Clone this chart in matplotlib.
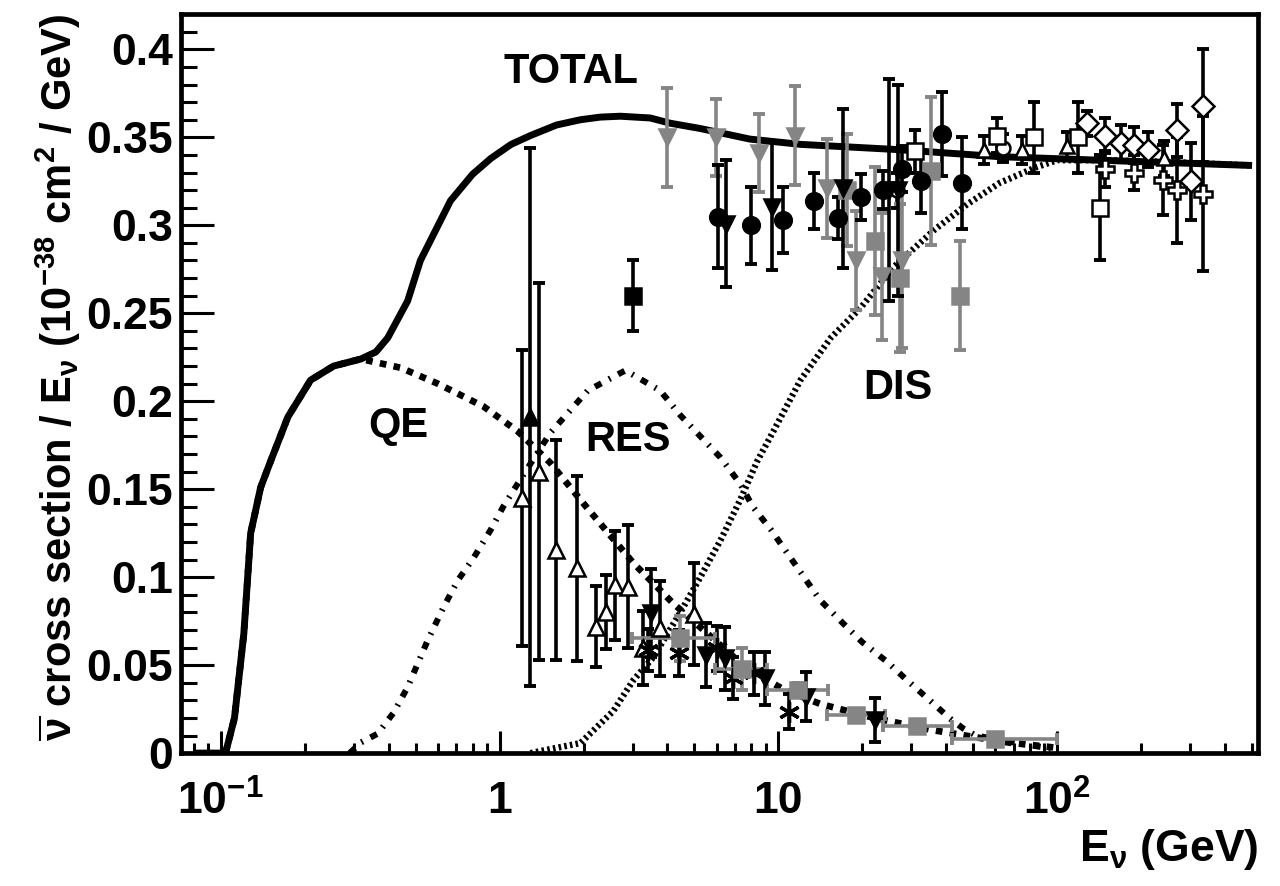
#!/usr/bin/env python3
import matplotlib

matplotlib.use("Agg")
import matplotlib.pyplot as plt
from matplotlib.ticker import FixedLocator, NullFormatter

plt.rcParams["font.family"] = ["Liberation Sans", "DejaVu Sans"]
plt.rcParams["font.weight"] = "bold"
plt.rcParams["mathtext.fontset"] = "custom"
plt.rcParams["mathtext.rm"] = "Liberation Sans:bold"
plt.rcParams["mathtext.it"] = "Liberation Sans:bold"
plt.rcParams["mathtext.bf"] = "Liberation Sans:bold"
plt.rcParams["mathtext.default"] = "rm"

GRAY = "#858585"

# model curves: antineutrino cross section / E (1e-38 cm^2/GeV)
total_e = [0.08, 0.104, 0.112, 0.121, 0.128, 0.139, 0.151, 0.174, 0.21, 0.254, 0.318, 0.36, 0.397, 0.468,
           0.52, 0.667, 0.8, 0.93, 1.1, 1.29, 1.6, 1.95, 2.3, 2.71, 3.47, 4.1, 5.25, 7.9, 12.0, 27.0, 62.0,
           142.0, 500.0]
total_s = [0.0, 0.0, 0.02, 0.068, 0.125, 0.151, 0.166, 0.191, 0.212, 0.220, 0.224, 0.228, 0.236, 0.257,
           0.28, 0.314, 0.329, 0.338, 0.346, 0.351, 0.357, 0.36, 0.3615, 0.362, 0.361, 0.358, 0.355, 0.349,
           0.346, 0.343, 0.339, 0.337, 0.334]

qe_e = [0.104, 0.112, 0.121, 0.128, 0.139, 0.151, 0.174, 0.21, 0.254, 0.318, 0.442, 0.6, 0.876, 1.16,
        1.52, 2.07, 3.02, 4.2, 5.56, 7.7, 10.5, 14.1, 22.0, 36.0, 51.0, 67.0, 100.0]
qe_s = [0.0, 0.02, 0.068, 0.125, 0.151, 0.166, 0.191, 0.212, 0.220, 0.224, 0.219, 0.210, 0.197, 0.183,
        0.165, 0.139, 0.108, 0.085, 0.068, 0.048, 0.036, 0.028, 0.020, 0.013, 0.009, 0.006, 0.003]

res_e = [0.29, 0.318, 0.365, 0.417, 0.468, 0.552, 0.63, 0.707, 0.807, 0.93, 1.03, 1.16, 1.52, 2.07,
         2.71, 2.83, 3.77, 4.45, 6.2, 7.3, 8.1, 9.4, 14.1, 17.0, 20.0, 24.5, 28.9, 34.9, 41.0, 46.0,
         51.0, 72.0, 100.0]
res_s = [0.0, 0.006, 0.011, 0.023, 0.0375, 0.064, 0.083, 0.098, 0.111, 0.127, 0.14, 0.153, 0.182, 0.206,
         0.216, 0.2175, 0.206, 0.192, 0.168, 0.153, 0.14, 0.127, 0.087, 0.074, 0.063, 0.052, 0.0415,
         0.030, 0.020, 0.014, 0.010, 0.0057, 0.002]

dis_e = [1.29, 1.95, 2.56, 3.02, 3.56, 4.45, 5.25, 6.2, 7.3, 8.4, 9.6, 12.0, 15.4, 19.7, 25.8, 36.0,
         47.6, 62.0, 84.0, 100.0, 150.0, 250.0, 500.0]
dis_s = [0.0, 0.0057, 0.024, 0.0415, 0.0545, 0.080, 0.10, 0.121, 0.144, 0.166, 0.183, 0.212, 0.236,
         0.253, 0.276, 0.297, 0.312, 0.324, 0.333, 0.337, 0.337, 0.336, 0.334]

# measurements
open_tri_e = [1.2, 1.39, 1.60, 1.90, 2.21, 2.40, 2.60, 2.90, 3.27, 3.77, 4.97]
open_tri_s = [0.145, 0.160, 0.1154, 0.105, 0.0718, 0.080, 0.0955, 0.0945, 0.0595, 0.071, 0.079]
open_tri_err = [0.084, 0.107, 0.0625, 0.0527, 0.023, 0.021, 0.031, 0.035, 0.021, 0.027, 0.029]

tot_tri_e = [54.5, 74.5, 108.0, 241.0]
tot_tri_s = [0.343, 0.343, 0.345, 0.338]
tot_tri_err = [0.008, 0.008, 0.008, 0.01]

open_circ_e = [26.7, 64.0]
open_circ_s = [0.320, 0.344]
open_circ_err = [0.01, 0.008]

up_tri_e = [1.29]
up_tri_s = [0.191]
up_tri_err = [0.153]

black_sq_e = [3.0]
black_sq_s = [0.26]
black_sq_err = [0.02]

circ_e = [6.06, 7.96, 10.4, 13.4, 16.3, 19.8, 23.7, 27.7, 32.6, 38.6, 45.5]
circ_s = [0.305, 0.300, 0.303, 0.314, 0.304, 0.316, 0.320, 0.332, 0.325, 0.352, 0.324]
circ_err = [0.029, 0.022, 0.019, 0.016, 0.012, 0.013, 0.011, 0.013, 0.018, 0.024, 0.026]

dtri_e = [6.5, 9.5, 17.0, 25.0, 26.8]
dtri_s = [0.301, 0.3105, 0.321, 0.320, 0.320]
dtri_err = [0.036, 0.036, 0.045, 0.063, 0.06]

gray_tri_e = [3.99, 5.98, 8.5, 11.5, 14.9, 19.0, 23.5, 27.7]
gray_tri_s = [0.350, 0.350, 0.341, 0.351, 0.321, 0.280, 0.271, 0.280]
gray_tri_err = [0.028, 0.022, 0.022, 0.028, 0.028, 0.028, 0.036, 0.05]

gray_sq_e = [17.6, 22.3, 27.3, 35.3, 44.9]
gray_sq_s = [0.320, 0.291, 0.270, 0.331, 0.260]
gray_sq_err = [0.032, 0.042, 0.042, 0.042, 0.031]

open_sq_e = [31.0, 60.7, 82.8, 119.0, 142.0]
open_sq_s = [0.342, 0.351, 0.350, 0.350, 0.310]
open_sq_err = [0.012, 0.01, 0.02, 0.02, 0.03]

diam_e = [128.0, 149.0, 169.0, 189.0, 212.0, 268.0, 301.0, 333.0]
diam_s = [0.358, 0.351, 0.347, 0.3456, 0.343, 0.354, 0.325, 0.368]
diam_err = [0.007, 0.01, 0.01, 0.01, 0.01, 0.015, 0.022, 0.032]

cross_e = [149.0, 189.0, 240.0, 268.0, 334.0]
cross_s = [0.332, 0.330, 0.3257, 0.320, 0.318]
cross_err = [0.01, 0.01, 0.02, 0.03, 0.044]

qe_sq_e = [4.45, 7.42, 11.8, 19.0, 31.4, 60.0]
qe_sq_s = [0.0652, 0.048, 0.0358, 0.0216, 0.0155, 0.008]
qe_sq_elo = [2.99, 5.94, 9.1, 14.9, 23.7, 41.8]
qe_sq_ehi = [5.94, 9.1, 15.1, 24.2, 41.8, 99.7]
qe_sq_err = [0.013, 0.012, 0.004, 0.002, 0.002, 0.002]

star_e = [3.42, 4.4, 6.0, 6.9, 8.15, 10.9]
star_s = [0.0585, 0.0567, 0.0595, 0.0425, 0.0453, 0.0235]
star_err = [0.012, 0.013, 0.013, 0.012, 0.012, 0.01]

qe_dtri_e = [3.5, 5.5, 6.45, 8.97, 12.6, 22.2]
qe_dtri_s = [0.0794, 0.0557, 0.0538, 0.0425, 0.032, 0.0188]
qe_dtri_err = [0.025, 0.018, 0.018, 0.015, 0.014, 0.0125]


def points(ax, e, s, err, marker, face, edge="black", ecol="black", ms=12, mew=1.8, xerr=None):
    ax.errorbar(e, s, yerr=err, xerr=xerr, fmt="none", ecolor=ecol, elinewidth=2.6,
                capsize=4, capthick=2.8, zorder=4)
    ax.plot(e, s, linestyle="none", marker=marker, markersize=ms, markerfacecolor=face,
            markeredgecolor=edge, markeredgewidth=mew, zorder=5)


def main() -> None:
    fig = plt.figure(figsize=(12.8, 8.86), dpi=100)
    ax = fig.add_axes([0.1414, 0.150, 0.8414, 0.834])

    ax.plot(total_e, total_s, color="black", lw=5.0, solid_capstyle="butt", solid_joinstyle="round", zorder=3)
    ax.plot(qe_e, qe_s, color="black", lw=4.8, dashes=(1.0, 1.1), dash_capstyle="butt", zorder=3)
    ax.plot(res_e, res_s, color="black", lw=4.4, dashes=(1.2, 1.4, 0.3, 1.4), dash_capstyle="butt", zorder=3)
    ax.plot(dis_e, dis_s, color="black", lw=4.6, dashes=(0.4, 0.5), dash_capstyle="butt", zorder=3)

    points(ax, open_tri_e, open_tri_s, open_tri_err, "^", "white")
    points(ax, tot_tri_e, tot_tri_s, tot_tri_err, "^", "white", ms=10)
    points(ax, open_circ_e, open_circ_s, open_circ_err, "o", "white", ms=10)
    points(ax, up_tri_e, up_tri_s, up_tri_err, "^", "black")
    points(ax, black_sq_e, black_sq_s, black_sq_err, "s", "black", ms=11)
    points(ax, gray_tri_e, gray_tri_s, gray_tri_err, "v", GRAY, edge=GRAY, ecol=GRAY)
    points(ax, gray_sq_e, gray_sq_s, gray_sq_err, "s", GRAY, edge=GRAY, ecol=GRAY, ms=11)
    points(ax, circ_e, circ_s, circ_err, "o", "black")
    points(ax, dtri_e, dtri_s, dtri_err, "v", "black")
    points(ax, open_sq_e, open_sq_s, open_sq_err, "s", "white", ms=12)
    points(ax, diam_e, diam_s, diam_err, "D", "white", ms=11)
    points(ax, cross_e, cross_s, cross_err, "P", "white", ms=13)
    points(ax, star_e, star_s, star_err, (6, 2, 0), "black", ms=15, mew=2.4)
    points(ax, qe_dtri_e, qe_dtri_s, qe_dtri_err, "v", "black")
    xerr = [[c - lo for c, lo in zip(qe_sq_e, qe_sq_elo)], [hi - c for c, hi in zip(qe_sq_e, qe_sq_ehi)]]
    points(ax, qe_sq_e, qe_sq_s, qe_sq_err, "s", GRAY, edge=GRAY, ecol=GRAY, ms=12, xerr=xerr)

    txt = dict(fontsize=30, fontweight="bold", ha="center", va="center")
    ax.text(1.80, 0.387, "TOTAL", **txt)
    ax.text(0.435, 0.186, "QE", **txt)
    ax.text(2.9, 0.178, "RES", **txt)
    ax.text(26.8, 0.2075, "DIS", **txt)

    ax.set_xscale("log")
    ax.set_xlim(0.072, 525)
    ax.set_ylim(0, 0.42)

    ax.xaxis.set_major_locator(FixedLocator([0.1, 1, 10, 100]))
    ax.set_xticklabels([r"$10^{-1}$", "1", "10", r"$10^{2}$"])
    minors = [m * 10.0 ** d for d in range(-2, 3) for m in range(2, 10)]
    ax.xaxis.set_minor_locator(FixedLocator(minors))
    ax.xaxis.set_minor_formatter(NullFormatter())
    yt = [0, 0.05, 0.1, 0.15, 0.2, 0.25, 0.3, 0.35, 0.4]
    ax.set_yticks(yt)
    ax.set_yticklabels(["0", "0.05", "0.1", "0.15", "0.2", "0.25", "0.3", "0.35", "0.4"])
    ax.set_yticks([i * 0.01 for i in range(0, 42)], minor=True)

    ax.tick_params(axis="both", which="both", direction="in", width=2.2, labelsize=32)
    ax.tick_params(axis="x", which="major", length=16, pad=20)
    ax.tick_params(axis="x", which="minor", length=7.5)
    ax.tick_params(axis="y", which="major", length=24, pad=6)
    ax.tick_params(axis="y", which="minor", length=11.5)
    for lab in ax.get_xticklabels() + ax.get_yticklabels():
        lab.set_fontweight("bold")
    for sp in ax.spines.values():
        sp.set_linewidth(3.4)

    ax.set_xlabel(r"E$_{\nu}$ (GeV)", fontsize=32, fontweight="bold", loc="right", labelpad=2)
    ax.set_ylabel(r"$\overline{\nu}$ cross section / E$_{\nu}$ (10$^{-38}$ cm$^{2}$ / GeV)",
                  fontsize=30, fontweight="bold", loc="top", labelpad=2)

    fig.savefig("out.png", dpi=100)
    plt.close(fig)


if __name__ == "__main__":
    main()
